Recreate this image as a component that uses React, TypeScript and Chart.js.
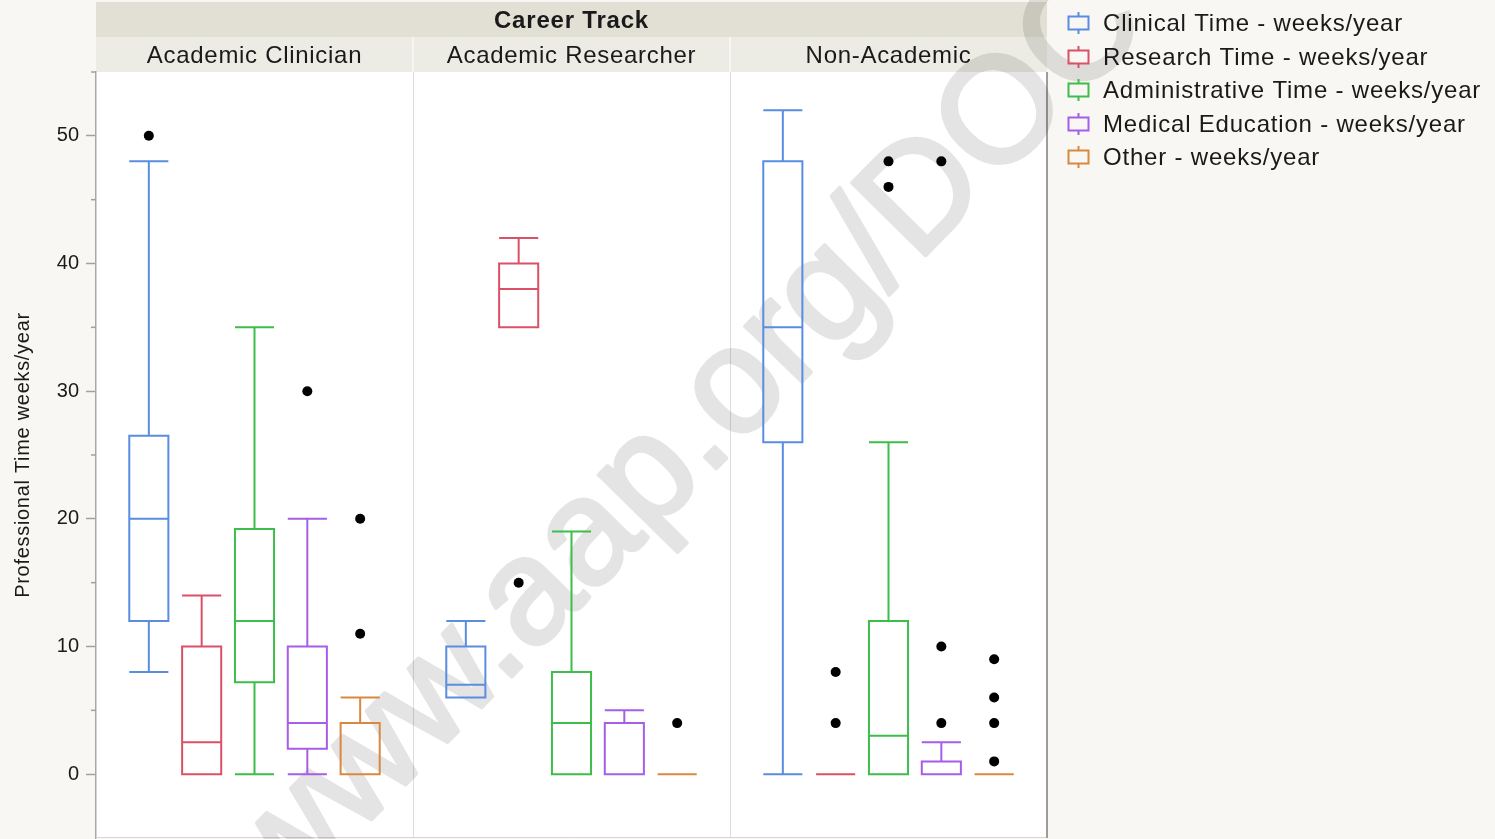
import React, { useEffect, useRef } from "react";
import { Chart, registerables } from "chart.js";

Chart.register(...registerables);

// ---------- data ----------
const panelTitles = ["Academic Clinician", "Academic Researcher", "Non-Academic"];
const headerTitle = "Career Track";
const seriesNames = [
  "Clinical Time - weeks/year",
  "Research Time - weeks/year",
  "Administrative Time - weeks/year",
  "Medical Education - weeks/year",
  "Other - weeks/year",
];
const seriesColors = ["#5a8de0", "#da5167", "#3dbd4a", "#a65de9", "#d8893f"];

// rows = panel (career track), columns = series
const whiskerLow = [
  [8, 0, 0, 0, 0],
  [6, 35, 0, 0, 0],
  [0, 0, 0, 0, 0],
];
const quartile1 = [
  [12, 0, 7.2, 2, 0],
  [6, 35, 0, 0, 0],
  [26, 0, 0, 0, 0],
];
const medians = [
  [20, 2.5, 12, 4, 0],
  [7, 38, 4, 0, 0],
  [35, 0, 3, 0, 0],
];
const quartile3 = [
  [26.5, 10, 19.2, 10, 4],
  [10, 40, 8, 4, 0],
  [48, 0, 12, 1, 0],
];
const whiskerHigh = [
  [48, 14, 35, 20, 6],
  [12, 42, 19, 5, 0],
  [52, 0, 26, 2.5, 0],
];

const outlierPanel = [0, 0, 0, 0, 1, 1, 2, 2, 2, 2, 2, 2, 2, 2, 2, 2, 2];
const outlierSeries = [0, 3, 4, 4, 1, 4, 1, 1, 2, 2, 3, 3, 3, 4, 4, 4, 4];
const outlierValues = [50, 30, 11, 20, 15, 4, 4, 8, 46, 48, 4, 10, 48, 1, 4, 6, 9];

const yMajorTicks = [0, 10, 20, 30, 40, 50];
const yMinorTicks = [5, 15, 25, 35, 45, 55];
const yTitle = "Professional Time weeks/year";
const watermarkText = "www.aap.org/DOC";

// ---------- layout constants ----------
const W = 1495;
const H = 839;
const PLOT_TOP = 72;
const PLOT_BOTTOM = 838;
const SLOTS_PER_PANEL = 6;
const BOX_HALF = 0.37;
const FONT = "'Liberation Sans', Arial, Helvetica, sans-serif";
const PAGE_BG = "#f8f7f3";
const STRIP_TOP = "#e2e0d4";
const STRIP_PANEL = "#ecebe4";
const TEXT = "#1a1a1a";

function slotOf(p: number, s: number) {
  return p * SLOTS_PER_PANEL + s + 1;
}

function boxPath(s: number) {
  const pts: { x: number; y: number | null }[] = [];
  for (let p = 0; p < panelTitles.length; p++) {
    const c = slotOf(p, s);
    const lo = whiskerLow[p][s];
    const q1 = quartile1[p][s];
    const md = medians[p][s];
    const q3 = quartile3[p][s];
    const hi = whiskerHigh[p][s];
    const gap = () => pts.push({ x: c, y: null });
    pts.push({ x: c, y: q1 }, { x: c + BOX_HALF, y: q1 }, { x: c + BOX_HALF, y: q3 },
      { x: c - BOX_HALF, y: q3 }, { x: c - BOX_HALF, y: q1 }, { x: c, y: q1 });
    gap();
    pts.push({ x: c - BOX_HALF, y: md }, { x: c + BOX_HALF, y: md });
    gap();
    if (lo < q1) {
      pts.push({ x: c, y: q1 }, { x: c, y: lo });
      gap();
    }
    pts.push({ x: c - BOX_HALF, y: lo }, { x: c + BOX_HALF, y: lo });
    gap();
    if (hi > q3) {
      pts.push({ x: c, y: q3 }, { x: c, y: hi });
      gap();
    }
    pts.push({ x: c - BOX_HALF, y: hi }, { x: c + BOX_HALF, y: hi });
    gap();
  }
  return pts;
}

const decorPlugin = {
  id: "decor",
  afterLayout(chart: any) {
    const ys = chart.scales.y;
    const area = chart.chartArea;
    area.top = PLOT_TOP;
    area.bottom = PLOT_BOTTOM;
    area.height = PLOT_BOTTOM - PLOT_TOP;
    ys.top = PLOT_TOP;
    ys.bottom = PLOT_BOTTOM;
    ys.height = PLOT_BOTTOM - PLOT_TOP;
    ys.configure();
  },
  beforeDraw(chart: any) {
    const { ctx, chartArea, scales } = chart;
    const { left, right, top, bottom } = chartArea;
    const xs = scales.x;
    const ys = scales.y;
    ctx.save();
    ctx.fillStyle = PAGE_BG;
    ctx.fillRect(0, 0, chart.width, chart.height);
    ctx.fillStyle = "#ffffff";
    ctx.fillRect(left, top, right - left, bottom - top);
    ctx.fillStyle = STRIP_TOP;
    ctx.fillRect(left, 2, right - left, 35);
    ctx.fillStyle = STRIP_PANEL;
    ctx.fillRect(left, 37, right - left, top - 37);
    ctx.strokeStyle = "#f7f6f1";
    ctx.lineWidth = 2;
    for (let p = 1; p < panelTitles.length; p++) {
      const x = xs.getPixelForValue(p * SLOTS_PER_PANEL);
      ctx.beginPath();
      ctx.moveTo(x, 37);
      ctx.lineTo(x, top);
      ctx.stroke();
    }
    ctx.fillStyle = TEXT;
    ctx.textAlign = "center";
    ctx.textBaseline = "middle";
    ctx.font = `bold 24px ${FONT}`;
    (ctx as any).letterSpacing = "0.8px";
    ctx.fillText(headerTitle, (left + right) / 2, 21);
    ctx.font = `24px ${FONT}`;
    (ctx as any).letterSpacing = "0.7px";
    for (let p = 0; p < panelTitles.length; p++) {
      const cx = xs.getPixelForValue(p * SLOTS_PER_PANEL + SLOTS_PER_PANEL / 2);
      ctx.fillText(panelTitles[p], cx, 56);
    }
    ctx.font = `20px ${FONT}`;
    (ctx as any).letterSpacing = "0.7px";
    ctx.translate(23, (ys.top + ys.bottom) / 2);
    ctx.rotate(-Math.PI / 2);
    ctx.fillText(yTitle, 0, 0);
    ctx.restore();
  },
  beforeDatasetsDraw(chart: any) {
    const { ctx, chartArea, scales } = chart;
    const { left, right, top, bottom } = chartArea;
    const xs = scales.x;
    const ys = scales.y;
    ctx.save();
    ctx.strokeStyle = "#dcdcdc";
    ctx.lineWidth = 1;
    for (let p = 1; p < panelTitles.length; p++) {
      const x = Math.round(xs.getPixelForValue(p * SLOTS_PER_PANEL)) + 0.5;
      ctx.beginPath();
      ctx.moveTo(x, top);
      ctx.lineTo(x, bottom);
      ctx.stroke();
    }
    ctx.strokeStyle = "#d6d6d6";
    ctx.beginPath();
    ctx.moveTo(left, bottom - 0.5);
    ctx.lineTo(right, bottom - 0.5);
    ctx.stroke();
    ctx.strokeStyle = "#9c9c9c";
    ctx.lineWidth = 2;
    ctx.beginPath();
    ctx.moveTo(right, top);
    ctx.lineTo(right, bottom);
    ctx.stroke();
    ctx.strokeStyle = "#a0a0a0";
    ctx.lineWidth = 1.5;
    for (const v of yMinorTicks) {
      const y = ys.getPixelForValue(v);
      ctx.beginPath();
      ctx.moveTo(left - 5, y);
      ctx.lineTo(left, y);
      ctx.stroke();
    }
    // watermark, rendered opaque offscreen then composited lightly
    const off = document.createElement("canvas");
    off.width = chart.width;
    off.height = chart.height;
    const o = off.getContext("2d") as CanvasRenderingContext2D;
    const size = 150;
    o.font = `${size}px ${FONT}`;
    o.fillStyle = "#000";
    o.strokeStyle = "#000";
    o.lineWidth = 4;
    o.lineJoin = "round";
    o.textAlign = "left";
    o.textBaseline = "alphabetic";
    const before = o.measureText("www.aap").width;
    const dotW = o.measureText(".").width;
    o.translate(716, 458);
    o.rotate((-45.5 * Math.PI) / 180);
    o.fillText(watermarkText, -before - dotW / 2, size * 0.05);
    o.strokeText(watermarkText, -before - dotW / 2, size * 0.05);
    ctx.globalAlpha = 0.1;
    ctx.drawImage(off, 0, 0);
    ctx.restore();
  },
  afterDraw(chart: any) {
    const { ctx } = chart;
    ctx.save();
    ctx.font = `24px ${FONT}`;
    (ctx as any).letterSpacing = "0.8px";
    ctx.textAlign = "left";
    ctx.textBaseline = "middle";
    for (let i = 0; i < seriesNames.length; i++) {
      const cy = Math.round(23 + i * 33.5);
      const ix = 1078.5;
      ctx.strokeStyle = seriesColors[i];
      ctx.lineWidth = 2;
      ctx.strokeRect(ix - 10, cy - 6.5, 20, 13);
      ctx.beginPath();
      ctx.moveTo(ix, cy - 11);
      ctx.lineTo(ix, cy - 6.5);
      ctx.moveTo(ix, cy + 6.5);
      ctx.lineTo(ix, cy + 11);
      ctx.stroke();
      ctx.fillStyle = TEXT;
      ctx.fillText(seriesNames[i], 1103, cy + 1);
    }
    ctx.restore();
  },
};

export default function App() {
  const ref = useRef<HTMLCanvasElement>(null);
  useEffect(() => {
    document.body.style.margin = "0";
    Chart.defaults.font.family = FONT;
    const boxDatasets = seriesNames.map((name, s) => ({
      type: "scatter" as const,
      label: name,
      data: boxPath(s),
      showLine: true,
      spanGaps: false,
      borderColor: seriesColors[s],
      backgroundColor: seriesColors[s],
      borderWidth: 2,
      borderJoinStyle: "miter" as const,
      borderCapStyle: "butt" as const,
      pointRadius: 0,
      pointHoverRadius: 0,
      fill: false,
    }));
    const outlierDataset = {
      type: "scatter" as const,
      label: "Outliers",
      data: outlierValues.map((v, i) => ({ x: slotOf(outlierPanel[i], outlierSeries[i]), y: v })),
      pointRadius: 5,
      pointBackgroundColor: "#000000",
      pointBorderWidth: 0,
      showLine: false,
    };
    const chart = new Chart(ref.current as HTMLCanvasElement, {
      type: "scatter",
      data: { datasets: [...boxDatasets, outlierDataset] as any },
      options: {
        animation: false,
        responsive: false,
        devicePixelRatio: 1,
        events: [],
        layout: { padding: { top: 72, right: 448, bottom: 1, left: 0 } },
        plugins: { legend: { display: false }, tooltip: { enabled: false } },
        scales: {
          x: {
            type: "linear",
            min: 0,
            max: panelTitles.length * SLOTS_PER_PANEL,
            display: false,
          },
          y: {
            type: "linear",
            min: -5,
            max: 55,
            afterFit: (s: any) => {
              s.width = 96;
              s.paddingTop = 0;
              s.paddingBottom = 0;
            },
            ticks: {
              stepSize: 5,
              padding: 7,
              color: TEXT,
              font: { size: 20 },
              callback: (v: any) => (yMajorTicks.includes(Number(v)) ? String(v) : ""),
            },
            grid: {
              drawOnChartArea: false,
              tickLength: 10,
              tickWidth: 1.5,
              tickColor: (ctx: any) =>
                ctx.tick && yMajorTicks.includes(ctx.tick.value) ? "#a0a0a0" : "rgba(0,0,0,0)",
            },
            border: { color: "#a8a8a8", width: 1.5 },
            title: { display: false },
          },
        },
      },
      plugins: [decorPlugin],
    });
    return () => chart.destroy();
  }, []);
  return (
    <div style={{ position: "fixed", left: 0, top: 0, width: W, height: H, background: PAGE_BG }}>
      <canvas ref={ref} width={W} height={H} style={{ display: "block", width: W, height: H }} />
    </div>
  );
}
